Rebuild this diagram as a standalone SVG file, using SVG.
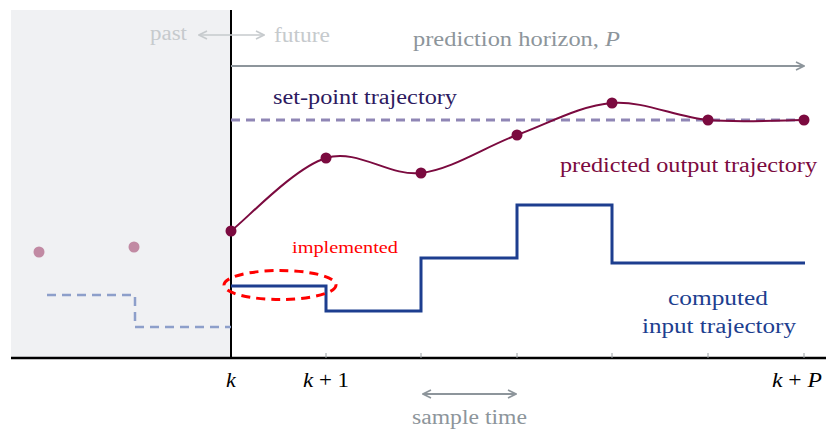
<svg xmlns="http://www.w3.org/2000/svg" width="826" height="432" viewBox="0 0 826 432" font-family="'Liberation Serif', 'DejaVu Serif', serif">
<defs>
<style>
.lbl{font-size:20px;}
.gray{fill:#8d959b;}
.light{fill:#c6cacd;}
.tick{stroke:#9aa0a4;stroke-width:1;}
.out{fill:none;stroke:#7b0a3f;stroke-width:2;}
.dot{fill:#7b0a3f;}
.pdot{fill:#c18aa3;}
.inp{fill:none;stroke:#1d3e8f;stroke-width:3;}
</style>
<marker id="ag" viewBox="0 0 10 10" refX="9" refY="5" markerWidth="10" markerHeight="10" markerUnits="userSpaceOnUse" orient="auto-start-reverse">
<path d="M1,1 L9,5 L1,9" fill="none" stroke="#8d959b" stroke-width="1.6"/>
</marker>
<marker id="al" viewBox="0 0 10 10" refX="9" refY="5" markerWidth="10" markerHeight="10" markerUnits="userSpaceOnUse" orient="auto-start-reverse">
<path d="M1,1 L9,5 L1,9" fill="none" stroke="#c6cacd" stroke-width="1.6"/>
</marker>
</defs>
<rect x="0" y="0" width="826" height="432" fill="#ffffff"/>
<g id="past-region">
<rect x="11" y="10" width="220" height="348" fill="#f0f1f3"/>
</g>
<g id="axes">
<line x1="11" y1="358" x2="826" y2="358" stroke="#000" stroke-width="2.5"/>
<line x1="231" y1="10" x2="231" y2="358" stroke="#000" stroke-width="2"/>
<line class="tick" x1="326" y1="353" x2="326" y2="358"/>
<line class="tick" x1="421" y1="353" x2="421" y2="358"/>
<line class="tick" x1="517" y1="353" x2="517" y2="358"/>
<line class="tick" x1="612" y1="353" x2="612" y2="358"/>
<line class="tick" x1="708" y1="353" x2="708" y2="358"/>
<line class="tick" x1="804" y1="353" x2="804" y2="358"/>
<text x="231" y="387" text-anchor="middle" font-size="22" font-style="italic">k</text>
<text x="303" y="387" font-size="22" textLength="46" lengthAdjust="spacingAndGlyphs"><tspan font-style="italic">k</tspan> + 1</text>
<text x="772" y="387" font-size="22" textLength="50" lengthAdjust="spacingAndGlyphs"><tspan font-style="italic">k</tspan> + <tspan font-style="italic">P</tspan></text>
</g>
<g id="connectors">
<line x1="199" y1="35" x2="264" y2="35" stroke="#c6cacd" stroke-width="1.6" marker-start="url(#al)" marker-end="url(#al)"/>
<line x1="231" y1="66" x2="804" y2="66" stroke="#8d959b" stroke-width="2" marker-end="url(#ag)"/>
<line x1="423" y1="394" x2="516" y2="394" stroke="#8d959b" stroke-width="1.8" marker-start="url(#ag)" marker-end="url(#ag)"/>
</g>
<g id="labels-top">
<text class="lbl light" x="150" y="40" textLength="37" lengthAdjust="spacingAndGlyphs">past</text>
<text class="lbl light" x="274" y="42" textLength="56" lengthAdjust="spacingAndGlyphs">future</text>
<text class="lbl gray" x="413" y="46" textLength="207" lengthAdjust="spacingAndGlyphs">prediction horizon, <tspan font-style="italic">P</tspan></text>
<text class="lbl gray" x="412" y="424" textLength="115" lengthAdjust="spacingAndGlyphs">sample time</text>
</g>
<g id="set-point">
<line x1="231" y1="120" x2="806" y2="120" stroke="#8f86b5" stroke-width="2.8" stroke-dasharray="9,6"/>
<text class="lbl" x="273" y="104" fill="#2d1a5f" textLength="184" lengthAdjust="spacingAndGlyphs">set-point trajectory</text>
</g>
<g id="predicted-output">
<path class="out" d="M231,231 C246.8,218.8 294.3,167.7 326,158 C357.7,148.3 389.2,176.8 421,173 C452.8,169.2 485.2,146.7 517,135 C548.8,123.3 580.2,105.5 612,103 C643.8,100.5 676,117.2 708,120 C740,122.8 788,120 804,120"/>
<circle class="dot" cx="231" cy="231" r="5.5"/>
<circle class="dot" cx="326" cy="158" r="5.5"/>
<circle class="dot" cx="421" cy="173" r="5.5"/>
<circle class="dot" cx="517" cy="135" r="5.5"/>
<circle class="dot" cx="612" cy="103" r="5.5"/>
<circle class="dot" cx="708" cy="120" r="5.5"/>
<circle class="dot" cx="804" cy="120" r="5.5"/>
<text class="lbl" x="560" y="172" fill="#7b0a3f" textLength="257" lengthAdjust="spacingAndGlyphs">predicted output trajectory</text>
</g>
<g id="past-output">
<circle class="pdot" cx="39" cy="252" r="5.5"/>
<circle class="pdot" cx="134" cy="247" r="5.5"/>
</g>
<g id="past-input">
<path d="M47,295 H135 V327 H231" fill="none" stroke="#8d9fca" stroke-width="2.5" stroke-dasharray="9,6"/>
</g>
<g id="computed-input">
<path class="inp" d="M231,286 H326 V311 H421 V258 H517 V205 H612 V263 H805"/>
<text class="lbl" x="668" y="305" fill="#1d3e8f" textLength="100" lengthAdjust="spacingAndGlyphs">computed</text>
<text class="lbl" x="642" y="333" fill="#1d3e8f" textLength="154" lengthAdjust="spacingAndGlyphs">input trajectory</text>
</g>
<g id="implemented">
<ellipse cx="280" cy="285" rx="56" ry="14.5" fill="none" stroke="#ff0000" stroke-width="3" stroke-dasharray="9,6"/>
<text x="292" y="253" font-size="17" fill="#ff0000" textLength="106" lengthAdjust="spacingAndGlyphs">implemented</text>
</g>
</svg>
